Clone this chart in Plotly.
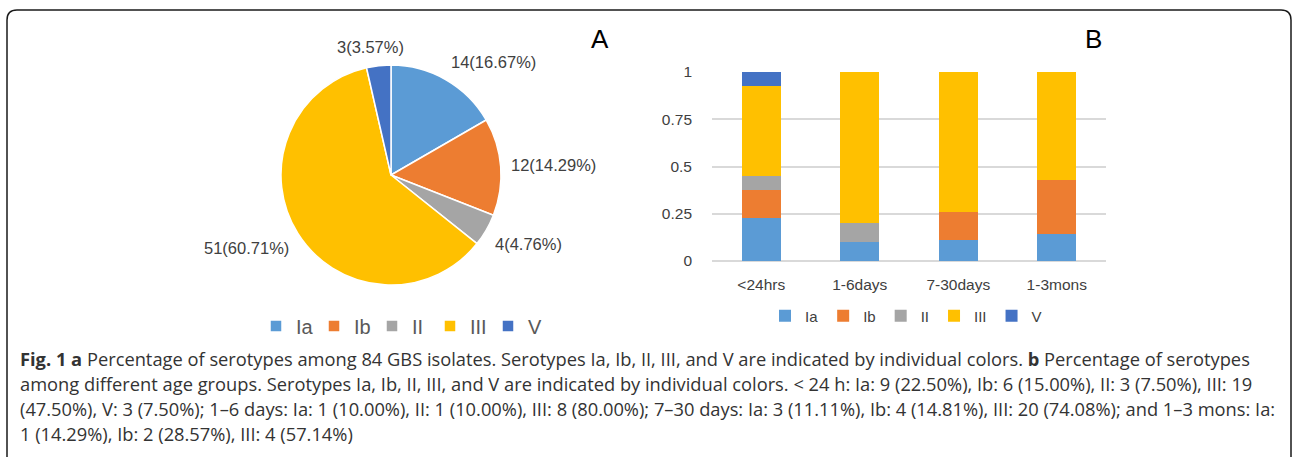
import math
import plotly.graph_objects as go

W, H = 1292, 457

serotypes = ["Ia", "Ib", "II", "III", "V"]
colors = ["#5B9BD5", "#ED7D31", "#A5A5A5", "#FFC000", "#4472C4"]
pie_counts = [14, 12, 4, 51, 3]

age_groups = ["<24hrs", "1-6days", "7-30days", "1-3mons"]
bar_Ia = [0.2250, 0.1000, 0.1111, 0.1429]
bar_Ib = [0.1500, 0.0000, 0.1481, 0.2857]
bar_II = [0.0750, 0.1000, 0.0000, 0.0000]
bar_III = [0.4750, 0.8000, 0.7408, 0.5714]
bar_V = [0.0750, 0.0000, 0.0000, 0.0000]
bar_series = [bar_Ia, bar_Ib, bar_II, bar_III, bar_V]

y_ticks = [0, 0.25, 0.5, 0.75, 1]
y_ticktext = ["0", "0.25", "0.5", "0.75", "1"]

caption_lines = [
    "<b>Fig. 1 a</b> Percentage of serotypes among 84 GBS isolates. Serotypes Ia, Ib, II, III, and V are indicated by individual colors. <b>b</b> Percentage of serotypes",
    "among different age groups. Serotypes Ia, Ib, II, III, and V are indicated by individual colors. &lt; 24 h: Ia: 9 (22.50%), Ib: 6 (15.00%), II: 3 (7.50%), III: 19",
    "(47.50%), V: 3 (7.50%); 1–6 days: Ia: 1 (10.00%), II: 1 (10.00%), III: 8 (80.00%); 7–30 days: Ia: 3 (11.11%), Ib: 4 (14.81%), III: 20 (74.08%); and 1–3 mons: Ia:",
    "1 (14.29%), Ib: 2 (28.57%), III: 4 (57.14%)",
]


def px(x):
    return x / W


def py(y):
    return 1 - y / H


# pie geometry (pixels)
PCX, PCY, PR = 391, 175, 110
LABEL_FS = 16.5
CHAR_EM = {"(": 0.333, ")": 0.333, ".": 0.278, "%": 0.889}
AX_FONT = "Liberation Sans Narrow, Liberation Sans, Arial"

fig = go.Figure()

fig.add_trace(go.Pie(
    labels=serotypes, values=pie_counts, sort=False, direction="clockwise", rotation=0,
    marker=dict(colors=colors, line=dict(color="white", width=1.5)),
    textinfo="none",
    domain=dict(x=[px(PCX - PR), px(PCX + PR)], y=[py(PCY + PR), py(PCY - PR)]),
    legend="legend", showlegend=True, hoverinfo="label+value+percent",
))

# outside pie labels placed from the slice mid-angles
total = sum(pie_counts)
cum = 0
for v in pie_counts:
    mid = (cum + v / 2) / total * 2 * math.pi
    cum += v
    txt = f"{v}({v / total * 100:.2f}%)"
    w_est = sum(CHAR_EM.get(ch, 0.556) for ch in txt) * LABEL_FS
    h_est = 18
    s, c = math.sin(mid), math.cos(mid)
    lx = PCX + (PR + 10) * s + math.copysign(w_est / 2 * min(1, 2 * abs(s)), s)
    ly = PCY - (PR + 10) * c - math.copysign(h_est / 2 * min(1, 2 * abs(c)), c)
    fig.add_annotation(text=txt, x=px(lx), y=py(ly), xref="paper", yref="paper",
                       showarrow=False, xanchor="center", yanchor="middle",
                       font=dict(family="Liberation Sans, Arial", size=LABEL_FS, color="#404040"))

for name, vals, col in zip(serotypes, bar_series, colors):
    fig.add_trace(go.Bar(
        x=age_groups, y=vals, name=name, marker=dict(color=col, line=dict(width=0)),
        legend="legend2", xaxis="x", yaxis="y",
    ))

fig.update_layout(
    width=W, height=H,
    margin=dict(l=0, r=0, t=0, b=0, autoexpand=False),
    paper_bgcolor="white", plot_bgcolor="white",
    barmode="stack", bargap=0.6,
    xaxis=dict(domain=[px(712), px(1106)], showgrid=False, showline=False, zeroline=False,
               ticks="", ticklabelstandoff=12, automargin=False,
               tickfont=dict(family=AX_FONT, size=15.5, color="#404040")),
    yaxis=dict(domain=[py(261), py(72)], range=[0, 1], tickvals=y_ticks, ticktext=y_ticktext,
               showgrid=True, gridcolor="#D9D9D9", gridwidth=1.5, zeroline=True, zerolinecolor="#D9D9D9",
               zerolinewidth=1.5, showline=False, ticks="", ticklabelstandoff=19, automargin=False,
               tickfont=dict(family=AX_FONT, size=15.5, color="#404040")),
    legend=dict(orientation="h", x=px(401), xanchor="center", y=py(326), yanchor="middle",
                font=dict(family="Liberation Sans, Arial", size=20, color="#595959"),
                entrywidth=13, entrywidthmode="pixels",
                itemclick=False, bgcolor="rgba(0,0,0,0)"),
    legend2=dict(orientation="h", x=px(906), xanchor="center", y=py(316), yanchor="middle",
                 traceorder="normal",
                 font=dict(family=AX_FONT, size=15, color="#404040"),
                 itemclick=False, bgcolor="rgba(0,0,0,0)"),
)

# panel letters
fig.add_annotation(text="A", x=px(600), y=py(39), xref="paper", yref="paper", showarrow=False,
                   xanchor="center", yanchor="middle",
                   font=dict(family="Liberation Sans, Arial", size=26, color="black"))
fig.add_annotation(text="B", x=px(1093), y=py(39), xref="paper", yref="paper", showarrow=False,
                   xanchor="center", yanchor="middle",
                   font=dict(family="Liberation Sans, Arial", size=26, color="black"))

# caption
for i, line in enumerate(caption_lines):
    fig.add_annotation(text=line, x=px(18), y=py(358 + i * 25.3), xref="paper", yref="paper",
                       xanchor="left", yanchor="middle", showarrow=False, align="left",
                       font=dict(family="Open Sans, Noto Sans", size=18.3, color="#333333"))

# rounded border
x0, x1, yt = px(7), px(1291), py(10)
rx, ry = 10 / W, 10 / H
path = (f"M {x0},{py(457)} L {x0},{yt - ry} Q {x0},{yt} {x0 + rx},{yt} "
        f"L {x1 - rx},{yt} Q {x1},{yt} {x1},{yt - ry} L {x1},{py(457)}")
fig.add_shape(type="path", path=path, xref="paper", yref="paper",
              line=dict(color="#1a1a1a", width=1.5))

fig.write_html("out.html", config={"displayModeBar": False},
               post_script="document.body.style.margin='0';document.body.style.overflow='hidden';")
